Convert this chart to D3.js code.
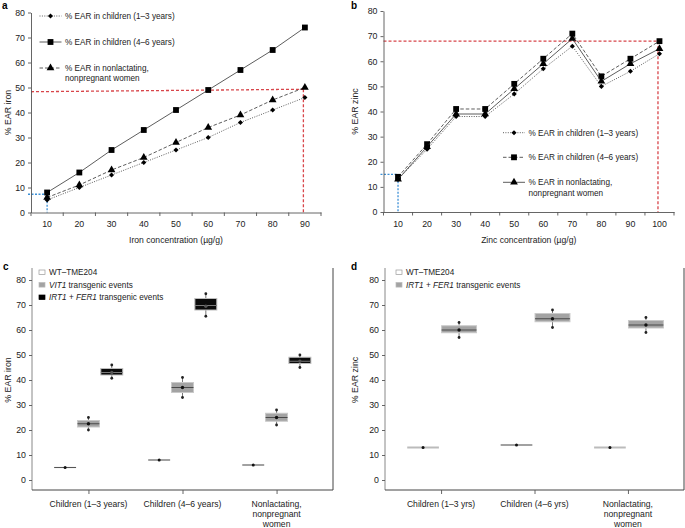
<!DOCTYPE html>
<html><head><meta charset="utf-8">
<script src="https://cdnjs.cloudflare.com/ajax/libs/d3/7.8.5/d3.min.js"></script>
<style>body{margin:0;background:#fff}svg{font-family:"Liberation Sans",Arial,sans-serif}</style>
</head><body><svg id="chart" width="685" height="528"></svg>
<script>
// ---------- data ----------
const ironConc = [10,20,30,40,50,60,70,80,90];
const ironChild13 = [5,10,15,20,25,30,36,41,46];
const ironChild46 = [8,16,25,33,41,49,57,65,74];
const ironWomen = [6,11,17,22,28,34,39,45,50];
const zincConc = [10,20,30,40,50,60,70,80,90,100];
const zincChild13 = [13,25,38,38,47,57,66,50,56,63];
const zincChild46 = [14,27,41,41,51,61,71,54,61,68];
const zincWomen = [13,26,39,39,49,59,69,52,59,65];
const yTicks = [0,10,20,30,40,50,60,70,80];
const ironRedGuide = [48.3, 49.3];   // % EAR at left / right of red guide
const ironBlueGuide = 7.3;
const zincRedGuide = 68;
const zincBlueGuide = 15;
const legendA = ["% EAR in children (1\u20133 years)", "% EAR in children (4\u20136 years)", ["% EAR in nonlactating,", "nonpregnant women"]];
const groupsC = ["Children (1\u20133 years)", "Children (4\u20136 years)", "Nonlactating, nonpregnant women"];
const groupsD = ["Children (1\u20133 yrs)", "Children (4\u20136 yrs)", "Nonlactating, nonpregnant women"];
// box stats: [min, q1, median, q3, max, mean]
const wtIron = [5, 8, 6];
const vit1Iron = [[20,21.2,22.5,23.8,25,22.5],[33,35,37,39,41,37],[22,23.5,25,26.7,28,25]];
const irtIron = [[40.7,42,43,44.6,46,43],[65.5,68,69.8,72.6,74.5,69.5],[45,46.6,47.5,49.1,50,47.5]];
const wtZinc = [13, 14, 13];
const irtZinc = [[57,58.9,60,61.7,63,60],[61,63.3,64.5,66.6,68,64.5],[59,60.8,62,63.8,65,62]];

// ---------- drawing ----------
const svg = d3.select("#chart");
const FS = 8.2;
const axisCol = "#555";

function styleAxis(g){
  g.selectAll("path.domain").attr("stroke", axisCol).attr("stroke-width",0.9);
  g.selectAll(".tick line").attr("stroke", axisCol).attr("stroke-width",0.9);
  g.selectAll(".tick text").attr("font-size",8.8).attr("fill","#222").attr("font-family",'"Liberation Sans",Arial,sans-serif');
}
const symMap = {diamond:[d3.symbolSquare,13,45], square:[d3.symbolSquare,34,0], triangle:[d3.symbolTriangle,26,0]};
function symbolPath(key){ const [t,sz] = symMap[key]; return d3.symbol().type(t).size(sz)(); }
const dashMap = {dotted:"1,1.4", dashed:"3.5,2", solid:null};

function linePanel(cfg){
  const x = d3.scaleBand().domain(cfg.conc).range(cfg.xr);
  const y = d3.scaleLinear().domain([0,80]).range(cfg.yr);
  const cx = d => x(d) + x.bandwidth()/2;
  // guides
  const y0 = y(0);
  const lastC = cfg.conc[cfg.conc.length-1];
  svg.append("line").attr("x1",cfg.xr[0]).attr("x2",cx(lastC)-1.5)
     .attr("y1",y(cfg.red[0])).attr("y2",y(cfg.red[1]))
     .attr("stroke","#d8454a").attr("stroke-width",1.3).attr("stroke-dasharray","3,2");
  svg.append("line").attr("x1",cx(lastC)-1.5).attr("x2",cx(lastC)-1.5)
     .attr("y1",y(cfg.red[1])).attr("y2",y0)
     .attr("stroke","#d8454a").attr("stroke-width",1.3).attr("stroke-dasharray","3,2");
  svg.append("line").attr("x1",cfg.xr[0]-3).attr("x2",cx(cfg.conc[0]))
     .attr("y1",y(cfg.blue)).attr("y2",y(cfg.blue))
     .attr("stroke","#3b8fd6").attr("stroke-width",1.3).attr("stroke-dasharray","2,1.5");
  svg.append("line").attr("x1",cx(cfg.conc[0])).attr("x2",cx(cfg.conc[0]))
     .attr("y1",y(cfg.blue)).attr("y2",y0)
     .attr("stroke","#3b8fd6").attr("stroke-width",1.3).attr("stroke-dasharray","2,1.5");
  // axes
  const gy = svg.append("g").attr("transform",`translate(${cfg.xr[0]},0)`)
     .call(d3.axisLeft(y).tickValues(yTicks).tickSize(3).tickPadding(3).tickSizeOuter(0));
  styleAxis(gy);
  const gx = svg.append("g").attr("transform",`translate(0,${y0})`)
     .call(d3.axisBottom(x).tickSize(0).tickPadding(cfg.xpad).tickSizeOuter(0));
  styleAxis(gx);
  const bounds = cfg.conc.map(d => x(d)).concat([cfg.xr[1]]);
  svg.append("g").selectAll("line").data(bounds).join("line")
     .attr("x1",d=>d).attr("x2",d=>d).attr("y1",y0).attr("y2",y0+3.5)
     .attr("stroke",axisCol).attr("stroke-width",0.9);
  // series
  const line = d3.line().x(d=>cx(d[0])).y(d=>y(d[1]));
  cfg.series.forEach(s=>{
    const pts = cfg.conc.map((c,i)=>[c,s.vals[i]]);
    svg.append("path").attr("d",line(pts)).attr("fill","none")
       .attr("stroke","#333").attr("stroke-width",0.8)
       .attr("stroke-dasharray",dashMap[s.dash]);
    const rot = symMap[s.sym][2];
    svg.append("g").selectAll("path").data(pts).join("path")
       .attr("d",symbolPath(s.sym)).attr("fill","#000")
       .attr("transform",d=>`translate(${cx(d[0])},${y(d[1])}) rotate(${rot})`);
  });
  // legend
  cfg.series.forEach((s,i)=>{
    const ly = cfg.legY[i];
    svg.append("line").attr("x1",cfg.legX).attr("x2",cfg.legX+22).attr("y1",ly).attr("y2",ly)
       .attr("stroke","#333").attr("stroke-width",0.8).attr("stroke-dasharray",dashMap[s.dash]);
    svg.append("path").attr("d",symbolPath(s.sym)).attr("fill","#000")
       .attr("transform",`translate(${cfg.legX+11},${ly}) rotate(${symMap[s.sym][2]})`);
    const lab = Array.isArray(s.label) ? s.label : [s.label];
    lab.forEach((l,j)=>{
      svg.append("text").attr("x",cfg.legX+25.5).attr("y",ly+3+j*10.3)
         .attr("font-size",FS).attr("fill","#222").text(l);
    });
  });
  // titles
  svg.append("text").attr("x",(cfg.xr[0]+cfg.xr[1])/2).attr("y",y0+30.5)
     .attr("text-anchor","middle").attr("font-size",FS+0.4).attr("fill","#222").text(cfg.xTitle);
  svg.append("text").attr("transform",`translate(${cfg.yTitleX},${(cfg.yr[0]+cfg.yr[1])/2}) rotate(-90)`)
     .attr("text-anchor","middle").attr("font-size",FS+0.6).attr("fill","#222").text(cfg.yTitle);
  svg.append("text").attr("x",cfg.letter[1]).attr("y",cfg.letter[2]).attr("font-weight","bold")
     .attr("font-size",10).text(cfg.letter[0]);
}

linePanel({
  conc: ironConc, xr:[31,321], yr:[212.5,12.5], xpad:8.5,
  red: ironRedGuide, blue: ironBlueGuide,
  series:[
    {vals:ironChild13, dash:"dotted", sym:"diamond", label:legendA[0]},
    {vals:ironChild46, dash:"solid", sym:"square", label:legendA[1]},
    {vals:ironWomen, dash:"dashed", sym:"triangle", label:legendA[2]}
  ],
  legX:39.5, legY:[16,42,68],
  xTitle:"Iron concentration (\u00b5g/g)", yTitle:"% EAR iron", yTitleX:11,
  letter:["a",2,9]
});
linePanel({
  conc: zincConc, xr:[383.5,674], yr:[212,11], xpad:9,
  red: [zincRedGuide,zincRedGuide], blue: zincBlueGuide,
  series:[
    {vals:zincChild13, dash:"dotted", sym:"diamond", label:legendA[0]},
    {vals:zincChild46, dash:"dashed", sym:"square", label:legendA[1]},
    {vals:zincWomen, dash:"solid", sym:"triangle", label:legendA[2]}
  ],
  legX:503, legY:[132.7,157.3,182.3],
  xTitle:"Zinc concentration (\u00b5g/g)", yTitle:"% EAR zinc", yTitleX:358,
  letter:["b",351,9]
});

// ---------- box panels ----------
const boxStyles = {
  gray:{fill:"#a3a3a3", stroke:"#c9c9c9", med:"#4a4a4a", mean:"#111"},
  black:{fill:"#0b0b0b", stroke:"#bdbdbd", med:"#7a7a7a", mean:"#555"}
};
function drawBox(cx, w, y, st, s){
  const [mn,q1,md,q3,mx,mean] = st;
  svg.append("line").attr("x1",cx).attr("x2",cx).attr("y1",y(mn)).attr("y2",y(mx))
     .attr("stroke","#555").attr("stroke-width",0.8);
  svg.append("rect").attr("x",cx-w/2).attr("width",w).attr("y",y(q3)).attr("height",y(q1)-y(q3))
     .attr("fill",s.fill).attr("stroke",s.stroke).attr("stroke-width",1);
  svg.append("line").attr("x1",cx-w/2).attr("x2",cx+w/2).attr("y1",y(md)).attr("y2",y(md))
     .attr("stroke",s.med).attr("stroke-width",1);
  [mn,mx].forEach(v=>svg.append("circle").attr("cx",cx).attr("cy",y(v)).attr("r",1.4).attr("fill","#222"));
  svg.append("circle").attr("cx",cx).attr("cy",y(mean)).attr("r",1.7).attr("fill",s.mean);
}
function boxPanel(cfg){
  const x = d3.scalePoint().domain(cfg.groups).range(cfg.xr).padding(0.6);
  const y = d3.scaleLinear().domain([0,80]).range([480,280]);
  const sub = d3.scaleBand().domain(cfg.sub).range(cfg.subR);
  const axY = 490;
  // frame
  svg.append("line").attr("x1",cfg.xr[0]).attr("x2",cfg.xr[0]).attr("y1",268).attr("y2",axY).attr("stroke","#888").attr("stroke-width",1);
  svg.append("line").attr("x1",cfg.xr[1]).attr("x2",cfg.xr[1]).attr("y1",268).attr("y2",axY).attr("stroke","#444").attr("stroke-width",1);
  svg.append("line").attr("x1",cfg.xr[0]).attr("x2",cfg.xr[1]).attr("y1",axY).attr("y2",axY).attr("stroke","#444").attr("stroke-width",1);
  const gy = svg.append("g").attr("transform",`translate(${cfg.xr[0]},0)`)
     .call(d3.axisLeft(y).tickValues(yTicks).tickSize(3).tickPadding(3));
  styleAxis(gy); gy.select("path.domain").remove();
  const gx = svg.append("g").attr("transform",`translate(0,${axY})`)
     .call(d3.axisBottom(x).tickSize(4).tickFormat(""));
  styleAxis(gx); gx.select("path.domain").remove();
  cfg.groups.forEach((g,i)=>{
    const parts = g.startsWith("Nonlactating") ? ["Nonlactating,","nonpregnant","women"] : [g];
    parts.forEach((p,j)=>svg.append("text").attr("x",x(g)).attr("y",axY+16.5+j*10.2)
       .attr("text-anchor","middle").attr("font-size",FS+0.4).attr("fill","#222").text(p));
  });
  // WT lines
  cfg.groups.forEach((g,i)=>{
    const c = x(g) + sub("wt") + sub.bandwidth()/2;
    const w = sub.bandwidth()*cfg.wtW;
    svg.append("line").attr("x1",c-w/2).attr("x2",c+w/2).attr("y1",y(cfg.wt[i])).attr("y2",y(cfg.wt[i]))
       .attr("stroke",cfg.wtCol[i]).attr("stroke-width",cfg.wtSW[i]);
    svg.append("circle").attr("cx",c).attr("cy",y(cfg.wt[i])).attr("r",1.5).attr("fill","#111");
  });
  cfg.boxes.forEach(b=>{
    cfg.groups.forEach((g,i)=>{
      const c = x(g) + sub(b.key) + sub.bandwidth()/2;
      drawBox(c, sub.bandwidth()*cfg.boxW, y, b.vals[i], boxStyles[b.style]);
    });
  });
  // legend
  cfg.legend.forEach((l,i)=>{
    const ly = 272.3 + i*12.5;
    svg.append("rect").attr("x",cfg.legX).attr("y",ly-2.3).attr("width",6).attr("height",4.6)
       .attr("fill",l.fill).attr("stroke",l.stroke).attr("stroke-width",0.7);
    const t = svg.append("text").attr("x",cfg.legX+10).attr("y",ly+3).attr("font-size",FS).attr("fill","#222");
    l.parts.forEach(p=>t.append("tspan").attr("font-style",p[1]?"italic":"normal").text(p[0]));
  });
  svg.append("text").attr("transform",`translate(${cfg.yTitleX},380) rotate(-90)`)
     .attr("text-anchor","middle").attr("font-size",FS+0.6).attr("fill","#222").text(cfg.yTitle);
  svg.append("text").attr("x",cfg.letter[1]).attr("y",cfg.letter[2]).attr("font-weight","bold")
     .attr("font-size",10).text(cfg.letter[0]);
}

boxPanel({
  groups: groupsC, xr:[32,333], sub:["wt","vit1","irt"], subR:[-35,35],
  wt: wtIron, wtCol:["#555","#555","#555"], wtSW:[1.1,1.1,1.1], wtW:0.94, boxW:0.94,
  boxes:[{key:"vit1", vals:vit1Iron, style:"gray"},{key:"irt", vals:irtIron, style:"black"}],
  legX:39,
  legend:[
    {fill:"#fff", stroke:"#999", parts:[["WT\u2013TME204",false]]},
    {fill:"#a3a3a3", stroke:"#bbb", parts:[["VIT1",true],[" transgenic events",false]]},
    {fill:"#000", stroke:"#000", parts:[["IRT1",true],[" + ",false],["FER1",true],[" transgenic events",false]]}
  ],
  yTitle:"% EAR iron", yTitleX:11, letter:["c",3,270]
});
boxPanel({
  groups: groupsD, xr:[385,684], sub:["wt","irt"], subR:[-36,36],
  wt: wtZinc, wtCol:["#bbb","#444","#bbb"], wtSW:[2,1.1,2], wtW:0.88, boxW:0.97,
  boxes:[{key:"irt", vals:irtZinc, style:"gray"}],
  legX:396,
  legend:[
    {fill:"#fff", stroke:"#999", parts:[["WT\u2013TME204",false]]},
    {fill:"#a3a3a3", stroke:"#bbb", parts:[["IRT1",true],[" + ",false],["FER1",true],[" transgenic events",false]]}
  ],
  yTitle:"% EAR zinc", yTitleX:358, letter:["d",351,270]
});
</script></body></html>
